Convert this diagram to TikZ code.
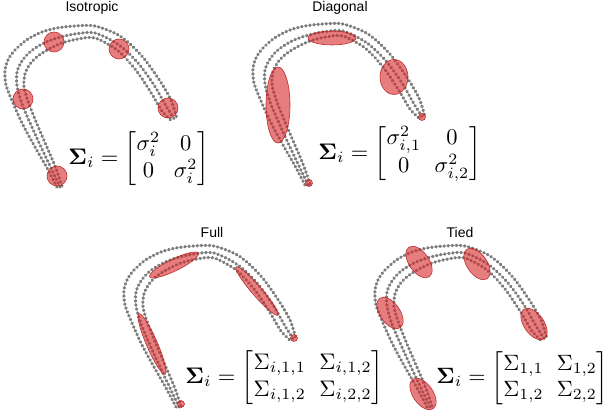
\documentclass[tikz,border=0pt]{standalone}
\usepackage{amsmath}
\usepackage{fontspec}
\newfontfamily\titlefont{Liberation Sans}
\usetikzlibrary{shapes.geometric}
\definecolor{dotgray}{RGB}{125,125,125}
\definecolor{ellred}{RGB}{214,39,40}
\tikzset{
  dots/.style={draw=dotgray, line width=3.2pt, line cap=round, dash pattern=on 0.6pt off 3.5pt},
  gauss/.style={ellipse, draw=ellred!85!black, draw opacity=0.9, line width=0.6pt,
    fill=ellred, fill opacity=0.6, inner sep=0pt},
  ptitle/.style={font=\titlefont\fontsize{14}{16}\selectfont, inner sep=0pt},
  eqn/.style={scale=2.25, inner sep=0pt, anchor=west}
}
\setlength{\arraycolsep}{3pt}
\newcommand\archcurves{%
  \draw[dots] plot[smooth] coordinates {(57,187) (47,168) (35,147) (23,125) (13,103) (6,85) (5,70) (9,58) (17,48) (28,39) (42,32) (57,28) (75,26) (95,26) (120,36) (141,55) (158,78) (171,100) (177,119)};
  \draw[dots] plot[smooth] coordinates {(60,187) (51,168) (41,147) (31,125) (22,104) (17,86) (17,72) (22,61) (30,52) (42,44) (57,38) (75,34) (95,33) (119,45) (138,63) (154,85) (166,106) (175,120)};
  \draw[dots] plot[smooth] coordinates {(62,186) (55,166) (46,145) (37,124) (29,104) (24,87) (25,74) (30,64) (38,56) (49,49) (62,43) (78,39) (95,38) (117,50) (135,69) (150,91) (162,111) (172,121)};
}
\begin{document}
\begin{tikzpicture}[x=1pt, y=-1pt]
\useasboundingbox (0,0) rectangle (607,417);
% curves
\begin{scope}\archcurves\end{scope}
\begin{scope}[shift={(248,-2)}]\archcurves\end{scope}
\begin{scope}[shift={(119,220)}]\archcurves\end{scope}
\begin{scope}[shift={(370,220)}]\archcurves\end{scope}
% titles
\node[ptitle] (tiso) at (92,8) {Isotropic};
\node[ptitle] (tdiag) at (340,8) {Diagonal};
\node[ptitle] (tfull) at (212,232) {Full};
\node[ptitle] (ttied) at (460,232) {Tied};
% isotropic
\node[gauss, minimum width=20pt, minimum height=20pt] (i1) at (54,42) {};
\node[gauss, minimum width=20pt, minimum height=20pt] (i2) at (119,49) {};
\node[gauss, minimum width=20pt, minimum height=20pt] (i3) at (23,99) {};
\node[gauss, minimum width=20pt, minimum height=20pt] (i4) at (168,108) {};
\node[gauss, minimum width=20pt, minimum height=20pt] (i5) at (57,176) {};
% diagonal
\node[gauss, minimum width=48pt, minimum height=14pt] (d1) at (332,38) {};
\node[gauss, minimum width=24pt, minimum height=76pt] (d2) at (278,105) {};
\node[gauss, minimum width=28pt, minimum height=35pt] (d3) at (394,77) {};
\node[gauss, minimum width=7pt, minimum height=7pt] (d4) at (309,183) {};
\node[gauss, minimum width=7pt, minimum height=7pt] (d5) at (422,117) {};
% full
\node[gauss, minimum width=54pt, minimum height=12pt, rotate=26] (f1) at (174,265) {};
\node[gauss, minimum width=64pt, minimum height=10pt, rotate=-49] (f2) at (257,291) {};
\node[gauss, minimum width=66pt, minimum height=11pt, rotate=-66.6] (f3) at (152,344) {};
\node[gauss, minimum width=7pt, minimum height=7pt] (f4) at (181,404) {};
\node[gauss, minimum width=7pt, minimum height=7pt] (f5) at (294,338) {};
% tied
\node[gauss, minimum width=36pt, minimum height=20pt, rotate=-55] (c1) at (419,262) {};
\node[gauss, minimum width=36pt, minimum height=20pt, rotate=-55] (c2) at (477,264) {};
\node[gauss, minimum width=36pt, minimum height=20pt, rotate=-55] (c3) at (390,313) {};
\node[gauss, minimum width=36pt, minimum height=20pt, rotate=-55] (c4) at (534,324) {};
\node[gauss, minimum width=36pt, minimum height=20pt, rotate=-55] (c5) at (423,394) {};
% equations
\node[eqn] (eiso) at (68,159) {$\boldsymbol{\Sigma}_i = \begin{bmatrix} \sigma_i^2 & 0\\ 0 & \sigma_i^2 \end{bmatrix}$};
\node[eqn] (ediag) at (318,153.5) {$\boldsymbol{\Sigma}_i = \begin{bmatrix} \sigma_{i,1}^2 & 0\\ 0 & \sigma_{i,2}^2 \end{bmatrix}$};
\node[eqn] (efull) at (185,377.5) {$\boldsymbol{\Sigma}_i = \begin{bmatrix} \Sigma_{i,1,1} & \Sigma_{i,1,2}\\ \Sigma_{i,1,2} & \Sigma_{i,2,2} \end{bmatrix}$};
\node[eqn, scale=0.985] (etied) at (436,378) {$\boldsymbol{\Sigma}_i = \begin{bmatrix} \Sigma_{1,1} & \Sigma_{1,2}\\ \Sigma_{1,2} & \Sigma_{2,2} \end{bmatrix}$};
\end{tikzpicture}
\end{document}
